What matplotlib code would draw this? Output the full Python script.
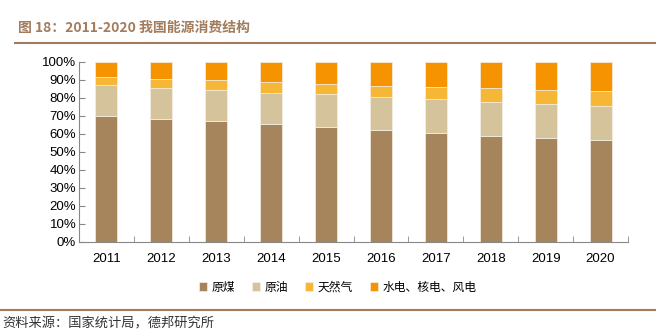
import matplotlib.pyplot as plt
import numpy as np

plt.rcParams['font.family'] = ['Noto Sans CJK SC', 'DejaVu Sans']

# 数据
years = ['2011', '2012', '2013', '2014', '2015', '2016', '2017', '2018', '2019', '2020']
coal = [70.2, 68.5, 67.4, 65.6, 63.7, 62.0, 60.4, 59.0, 57.7, 56.8]
oil = [16.8, 17.0, 17.1, 17.4, 18.3, 18.5, 18.8, 18.9, 18.9, 18.9]
gas = [4.6, 4.8, 5.3, 5.7, 5.9, 6.2, 7.0, 7.6, 8.0, 8.4]
clean = [8.4, 9.7, 10.2, 11.3, 12.1, 13.3, 13.8, 14.5, 15.4, 15.9]
names = ['原煤', '原油', '天然气', '水电、核电、风电']
colors = ['#A6845C', '#D5C49B', '#F5B735', '#F59300']

fig = plt.figure(figsize=(6.56, 3.36), dpi=100)
ax = fig.add_axes([79/656, 1-242/336, 549/656, 180/336])

x = np.arange(len(years))
bottom = np.zeros(len(years))
for vals, nm, c in zip([coal, oil, gas, clean], names, colors):
    ax.bar(x, vals, 0.4, bottom=bottom, color=c, label=nm,
           edgecolor='#f5efe6', linewidth=0.5)
    bottom = bottom + np.array(vals)

ax.set_xlim(-0.5, len(years) - 0.5)
ax.set_ylim(0, 100)
ax.set_yticks(np.arange(0, 101, 10))
ax.set_yticklabels([f'{v}%' for v in range(0, 101, 10)], fontsize=9.5,
                   family=['Liberation Sans', 'DejaVu Sans'])
ax.set_xticks(x)
ax.set_xticklabels(years, fontsize=9.5, family=['Liberation Sans', 'DejaVu Sans'])
ax.set_xticks(np.arange(-0.5, len(years)), minor=True)
ax.tick_params(axis='x', which='major', length=0, pad=8)
ax.tick_params(axis='x', which='minor', length=4, direction='in', color='#888888')
ax.tick_params(axis='y', length=4, direction='in', color='#888888', pad=2)
for s in ['top', 'right']:
    ax.spines[s].set_visible(False)
for s in ['left', 'bottom']:
    ax.spines[s].set_color('#888888')

fig.legend(loc='center', bbox_to_anchor=(0.515, 1-287/336), ncol=4, frameon=False,
           fontsize=8.5, handlelength=0.7, handleheight=0.7, handletextpad=0.4,
           columnspacing=1.4)

brown = '#A27C5C'
fig.text(18/656, 1-28/336, '图 18：2011-2020 我国能源消费结构', fontsize=10,
         fontweight='bold', color=brown, va='center')
fig.add_artist(plt.Line2D([15/656, 655/656], [1-43/336, 1-43/336], color=brown, lw=1.5))
fig.add_artist(plt.Line2D([0, 1], [1-310/336, 1-310/336], color=brown, lw=1.5))
fig.text(2/656, 1-324/336, '资料来源：国家统计局，德邦研究所', fontsize=9.5, color='#333333', va='center')

fig.savefig('out.png', dpi=100)
